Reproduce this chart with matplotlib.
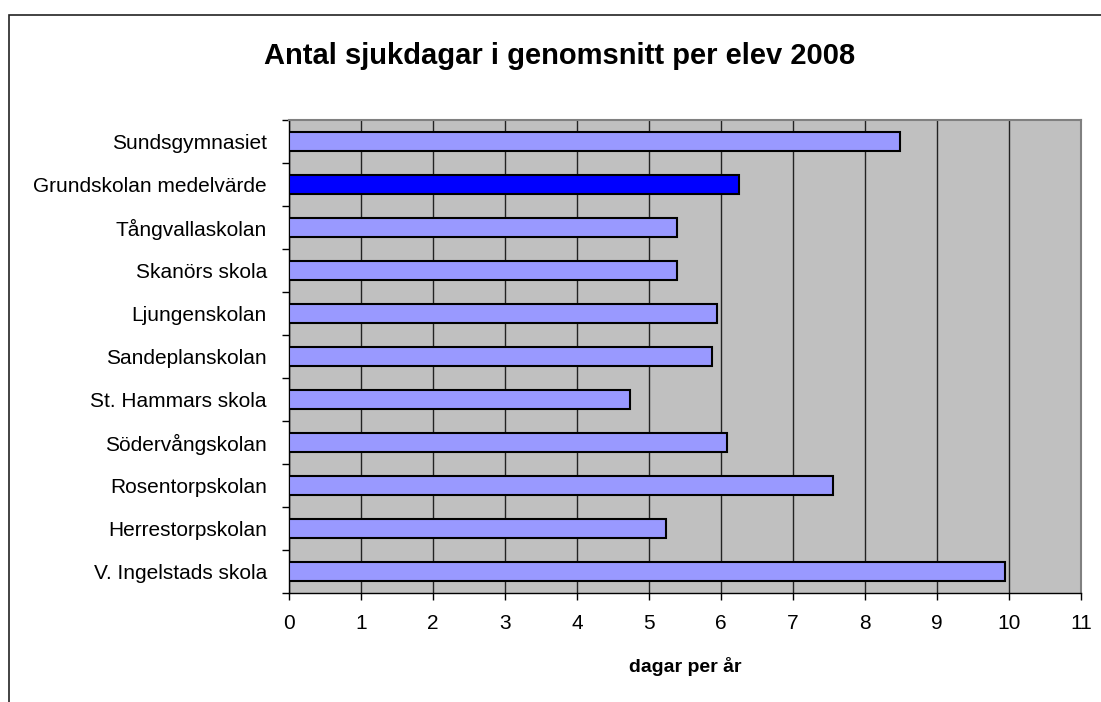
import numpy as np
import matplotlib
matplotlib.use("Agg")
import matplotlib.pyplot as plt
from matplotlib.patches import Rectangle

plt.rcParams['font.family'] = ['Liberation Sans', 'DejaVu Sans']

# data, top to bottom as in the chart
schools = ["Sundsgymnasiet", "Grundskolan medelvärde", "Tångvallaskolan",
           "Skanörs skola", "Ljungenskolan", "Sandeplanskolan",
           "St. Hammars skola", "Södervångskolan", "Rosentorpskolan",
           "Herrestorpskolan", "V. Ingelstads skola"]
days = [8.48, 6.25, 5.39, 5.39, 5.94, 5.87, 4.73, 6.09, 7.56, 5.23, 9.95]
highlight = "Grundskolan medelvärde"

title = "Antal sjukdagar i genomsnitt per elev 2008"
xlabel = "dagar per år"

W, H = 1101, 702
fig = plt.figure(figsize=(W / 100, H / 100), dpi=100)

# outer chart border (clipped on right/bottom like the original)
fig.patches.append(Rectangle((9 / W, -0.05), 1.2, 1 - 15 / H + 0.05,
                             transform=fig.transFigure, fill=False,
                             edgecolor="#222222", linewidth=1.2))

left, right, top, bottom = 289, 1081, 120, 593
ax = fig.add_axes([left / W, 1 - bottom / H, (right - left) / W, (bottom - top) / H])
ax.set_facecolor("#C0C0C0")

y = np.arange(len(schools))[::-1]
colors = ["#0000FF" if s == highlight else "#9999FF" for s in schools]
ax.barh(y, days, height=0.45, color=colors, edgecolor="black", linewidth=1.5, zorder=3)

ax.set_xlim(0, 11)
ax.set_ylim(-0.5, len(schools) - 0.5)
ax.set_xticks(range(0, 12))
ax.xaxis.grid(True, color="#222222", linewidth=1.0, zorder=1)
ax.set_axisbelow(True)

ax.set_yticks(y)
ax.set_yticklabels(schools, fontsize=15)
ax.set_yticks(np.arange(-0.5, len(schools)), minor=True)
ax.tick_params(axis="y", which="major", length=0, pad=16)
ax.tick_params(axis="y", which="minor", length=5, width=1, direction="out")
ax.tick_params(axis="x", length=5, width=1, direction="out", labelsize=15, pad=10)

for side in ["top", "right"]:
    ax.spines[side].set_color("#808080")
    ax.spines[side].set_linewidth(1.5)
for side in ["left", "bottom"]:
    ax.spines[side].set_color("black")
    ax.spines[side].set_linewidth(1.0)

fig.text(685 / W, 1 - 667 / H, xlabel, fontsize=14, fontweight="bold",
         ha="center", va="center")
fig.text(560 / W, 1 - 56 / H, title, fontsize=21, fontweight="bold",
         ha="center", va="center")

fig.savefig("out.png", dpi=100, facecolor="white")
